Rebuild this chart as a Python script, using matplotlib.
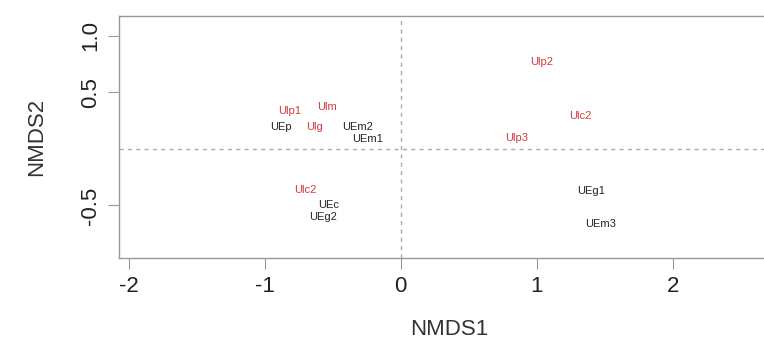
import matplotlib
matplotlib.use("Agg")
import matplotlib.pyplot as plt

plt.rcParams['font.family'] = ['Liberation Sans', 'DejaVu Sans']
plt.rcParams['axes.unicode_minus'] = False

labels = ['Ulp2', 'Ulc2', 'Ulp3', 'Ulp1', 'Ulm', 'UEp', 'Ulg', 'UEm2', 'UEm1',
          'Ulc2', 'UEc', 'UEg2', 'UEg1', 'UEm3']
nmds1 = [1.04, 1.32, 0.85, -0.82, -0.54, -0.88, -0.63, -0.32, -0.24,
         -0.70, -0.53, -0.57, 1.40, 1.47]
nmds2 = [0.77, 0.29, 0.10, 0.34, 0.37, 0.19, 0.19, 0.19, 0.09,
         -0.36, -0.50, -0.60, -0.37, -0.66]
groups = ['Ul', 'Ul', 'Ul', 'Ul', 'Ul', 'UE', 'Ul', 'UE', 'UE',
          'Ul', 'UE', 'UE', 'UE', 'UE']
group_colors = {'Ul': '#d23a3a', 'UE': '#222222'}

fig = plt.figure(figsize=(7.64, 3.53), dpi=100)
ax = fig.add_axes([0.156, 0.269, 0.865, 0.686])

ax.set_xlim(-2.07, 2.79)
ax.set_ylim(-0.965, 1.177)

ax.axhline(0, color='#aaaaaa', linestyle=(0, (3, 3)), lw=1)
ax.axvline(0, color='#aaaaaa', linestyle=(0, (3, 3)), lw=1)

for lab, x, y, g in zip(labels, nmds1, nmds2, groups):
    ax.text(x, y, lab, color=group_colors[g], fontsize=8, ha='center', va='center')

for s in ax.spines.values():
    s.set_color('#999999')
    s.set_linewidth(1)

ax.set_xticks([-2, -1, 0, 1, 2])
ax.set_yticks([-0.5, 0.5, 1.0])
ax.set_yticklabels(['-0.5', '0.5', '1.0'], rotation=90, va='center')
ax.tick_params(colors='#999999', labelcolor='#222222', labelsize=16, length=8, pad=5)

ax.set_xlabel('NMDS1', fontsize=16, color='#333333', labelpad=16)
ax.set_ylabel('NMDS2', fontsize=16, color='#333333', labelpad=24)

fig.savefig('out.png', dpi=100)
